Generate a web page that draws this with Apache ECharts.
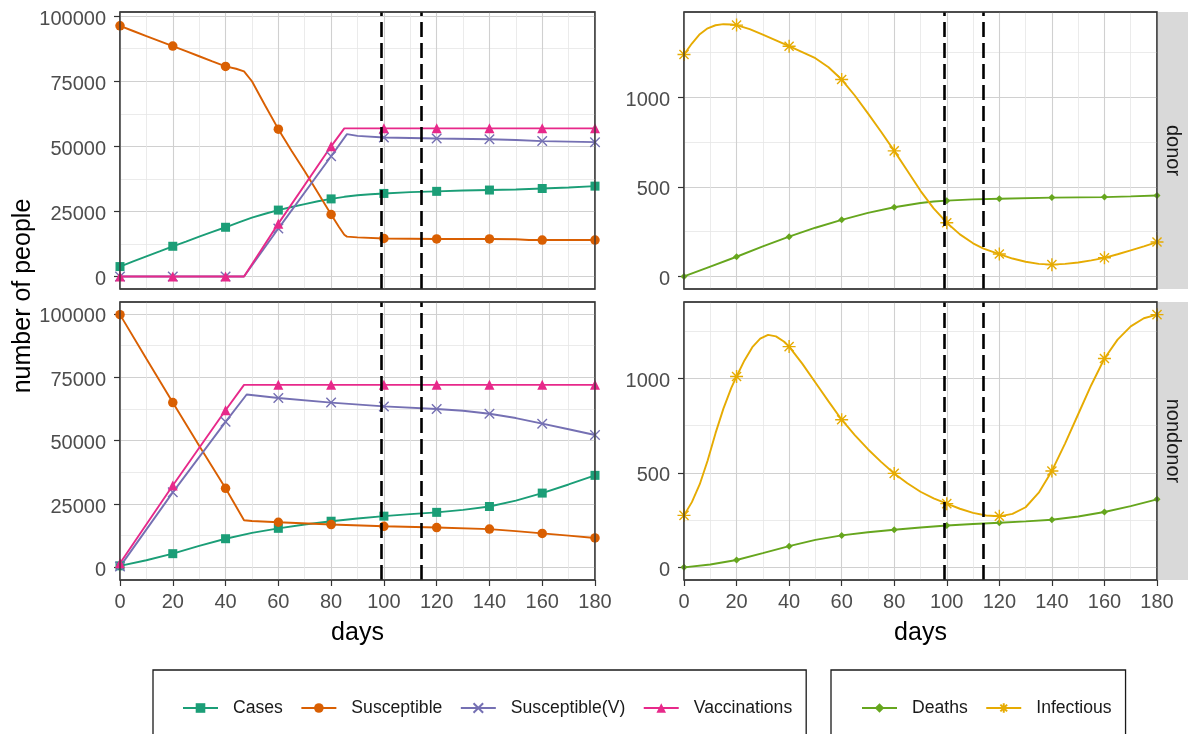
<!DOCTYPE html>
<html><head><meta charset="utf-8">
<script src="https://cdn.jsdelivr.net/npm/echarts@6/dist/echarts.min.js"></script>
<style>html,body{margin:0;padding:0;background:#fff}#c{width:1188px;height:734px}</style>
</head><body><div id="c"></div>
<script>
// ---------- tick labels / reference lines ----------
const xTicks = [0, 20, 40, 60, 80, 100, 120, 140, 160, 180];
const yTicksLeft = [0, 25000, 50000, 75000, 100000];
const yMinorLeft = [12500, 37500, 62500, 87500];
const yTicksRight = [0, 500, 1000];
const yMinorRight = [250, 750, 1250];
const dashedDays = [99, 114];
const markerEvery = 20;
const facetLabels = ['donor', 'nondonor'];
const legendLeft = ['Cases', 'Susceptible', 'Susceptible(V)', 'Vaccinations'];
const legendRight = ['Deaths', 'Infectious'];

// ---------- donor (top row) ----------
const donorCases = [[0,3800],[5,5800],[10,7700],[15,9600],[20,11600],[25,13400],[30,15300],[35,17100],[40,18900],[45,20800],[50,22600],[55,24100],[60,25500],[65,26700],[70,27800],[75,28900],[80,29800],[85,30600],[90,31200],[95,31600],[100,31900],[110,32400],[120,32700],[130,33000],[140,33200],[150,33400],[160,33800],[170,34200],[180,34700]];
const donorSusceptible = [[0,96300],[5,94300],[10,92300],[15,90400],[20,88500],[25,86600],[30,84600],[35,82600],[40,80700],[44,79800],[47,78800],[50,75000],[55,65700],[60,56600],[65,48300],[70,40400],[75,32200],[80,23800],[83,19000],[85,16000],[86,15300],[90,15000],[100,14600],[110,14500],[120,14400],[140,14400],[150,14300],[155,14000],[160,14000],[180,14000]];
const donorSusceptibleV = [[0,0],[20,0],[40,0],[47,0],[60,18400],[80,46200],[86,54700],[90,54000],[100,53400],[120,53000],[140,52700],[150,52400],[160,52000],[170,51800],[180,51600]];
const donorVaccinations = [[0,0],[20,0],[40,0],[47,0],[60,20300],[80,50000],[85,56900],[100,56900],[120,56900],[140,56900],[160,56900],[180,56900]];
const donorDeaths = [[0,0],[10,55],[20,110],[30,168],[40,222],[50,272],[60,316],[70,355],[80,386],[90,410],[95,418],[100,423],[110,430],[120,434],[140,440],[160,443],[170,447],[180,452]];
const donorInfectious = [[0,1239],[3,1300],[6,1352],[9,1385],[12,1402],[15,1408],[18,1406],[20,1403],[25,1380],[30,1350],[35,1318],[40,1285],[45,1252],[50,1218],[55,1168],[60,1099],[65,1010],[70,910],[75,808],[80,701],[85,590],[90,478],[95,380],[100,300],[105,235],[110,185],[114,155],[120,125],[125,100],[130,82],[135,70],[140,66],[145,70],[150,78],[155,90],[160,104],[165,124],[170,146],[175,168],[180,192]];

// ---------- nondonor (bottom row) ----------
const nondonorCases = [[0,600],[10,2800],[20,5400],[30,8500],[40,11300],[50,13600],[60,15400],[70,16900],[80,18200],[90,19300],[100,20200],[110,21000],[120,21700],[130,22700],[140,24000],[150,26300],[160,29300],[170,32700],[180,36300]];
const nondonorSusceptible = [[0,99700],[10,82300],[20,65000],[30,48000],[40,31200],[47,18600],[50,18300],[60,17800],[80,16900],[100,16200],[120,15700],[140,15100],[150,14300],[160,13400],[170,12500],[180,11600]];
const nondonorSusceptibleV = [[0,300],[20,29600],[40,57400],[48,68200],[60,66800],[80,65000],[100,63500],[120,62500],[130,61800],[140,60600],[150,58900],[160,56700],[170,54500],[180,52200]];
const nondonorVaccinations = [[0,1600],[20,32300],[40,62000],[47,72000],[60,72000],[80,72000],[100,72000],[120,72000],[140,72000],[160,72000],[180,72000]];
const nondonorDeaths = [[0,0],[10,15],[20,39],[30,75],[40,112],[50,145],[60,169],[70,186],[80,199],[90,211],[100,221],[110,229],[120,236],[130,243],[140,252],[150,269],[160,293],[170,324],[180,360]];
const nondonorInfectious = [[0,275],[3,345],[6,440],[9,565],[12,710],[15,840],[18,950],[20,1010],[23,1095],[26,1165],[29,1210],[32,1230],[35,1222],[38,1195],[40,1168],[45,1078],[50,978],[55,878],[60,781],[65,700],[70,625],[75,558],[80,497],[85,445],[90,400],[95,365],[100,337],[105,310],[110,288],[115,274],[120,270],[125,283],[130,318],[135,395],[140,510],[145,655],[150,810],[155,965],[160,1105],[165,1205],[170,1275],[175,1318],[180,1337]];

// ---------- styling ----------
const FONT = "'Liberation Sans', Arial, sans-serif";
const MAJOR = '#D0D0D0', MINOR = '#E6E6E6';
const COL = {Cases:'#1B9E77', Susceptible:'#D95F02', 'Susceptible(V)':'#7570B3', Vaccinations:'#E7298A', Deaths:'#66A61E', Infectious:'#E6AB02'};
const SYM = {
  Cases:['rect',9,false], Susceptible:['circle',9.5,false],
  'Susceptible(V)':['path://M0,0L10,10M10,0L0,10',9.5,true],
  Vaccinations:['triangle',10,false], Deaths:['diamond',7,false],
  Infectious:['path://M5,0L5,10M0,5L10,5M1.5,1.5L8.5,8.5M8.5,1.5L1.5,8.5',13,true]
};

const panels = [
  {grid:{left:120, top:12, width:475, height:277}, yMin:-4815, yMax:101600, ticks:yTicksLeft, minor:yMinorLeft, bottom:false},
  {grid:{left:120, top:302, width:475, height:278}, yMin:-4985, yMax:104685, ticks:yTicksLeft, minor:yMinorLeft, bottom:true},
  {grid:{left:684, top:12, width:473, height:277}, yMin:-70, yMax:1476, ticks:yTicksRight, minor:yMinorRight, bottom:false},
  {grid:{left:684, top:302, width:473, height:278}, yMin:-67, yMax:1404, ticks:yTicksRight, minor:yMinorRight, bottom:true}
];

const grids = [], xAxes = [], yAxes = [];
panels.forEach((p, i) => {
  grids.push(Object.assign({show:true, borderColor:'#333', borderWidth:1.2, backgroundColor:'#fff'}, p.grid));
  xAxes.push({gridIndex:i, type:'value', min:0, max:180, interval:20, position:'bottom',
    axisLine:{show:false, onZero:false},
    axisTick:{show:p.bottom, length:6, customValues:xTicks, lineStyle:{color:'#333', width:1.2}},
    axisLabel:{show:p.bottom, customValues:xTicks, fontSize:20, color:'#4D4D4D', fontFamily:FONT, margin:12},
    splitLine:{show:true, lineStyle:{color:MAJOR, width:1.1}},
    minorTick:{show:false, splitNumber:2},
    minorSplitLine:{show:true, lineStyle:{color:MINOR, width:0.8}}
  });
  yAxes.push({gridIndex:i, type:'value', min:p.yMin, max:p.yMax, position:'left',
    axisLine:{show:false, onZero:false},
    axisTick:{show:true, length:6, customValues:p.ticks, lineStyle:{color:'#333', width:1.2}},
    axisLabel:{show:true, customValues:p.ticks, margin:14, formatter:v => '{t|' + v + '}',
      rich:{t:{fontSize:20, color:'#4D4D4D', fontFamily:FONT, lineHeight:26, verticalAlign:'bottom'}}},
    splitLine:{show:true, lineStyle:{color:MAJOR, width:1.1}}
  });
  yAxes.push({gridIndex:i, type:'value', min:p.yMin, max:p.yMax, position:'left',
    axisLine:{show:false, onZero:false},
    axisTick:{show:false, customValues:p.minor},
    axisLabel:{show:false},
    splitLine:{show:true, lineStyle:{color:MINOR, width:0.8}}
  });
});

function mk(name, data, gi, withMark) {
  const color = COL[name], s = SYM[name];
  const ser = {type:'line', name, xAxisIndex:gi, yAxisIndex:gi*2, data,
    symbol:s[0], symbolSize:v => (v[0] % markerEvery === 0 ? s[1] : 0),
    showSymbol:true, showAllSymbol:true, silent:true, animation:false,
    lineStyle:{color, width:1.9},
    itemStyle: s[2] ? {color:'rgba(0,0,0,0)', borderColor:color, borderWidth:1.4} : {color, borderWidth:0},
    emphasis:{disabled:true}
  };
  if (withMark) {
    ser.markLine = {silent:true, symbol:['none','none'], label:{show:false}, animation:false,
      lineStyle:{color:'#000', width:2.6, type:[15,6]},
      data: dashedDays.map(d => ({xAxis:d}))};
  }
  return ser;
}

const series = [
  mk('Cases', donorCases, 0), mk('Susceptible', donorSusceptible, 0), mk('Susceptible(V)', donorSusceptibleV, 0), mk('Vaccinations', donorVaccinations, 0, true),
  mk('Cases', nondonorCases, 1), mk('Susceptible', nondonorSusceptible, 1), mk('Susceptible(V)', nondonorSusceptibleV, 1), mk('Vaccinations', nondonorVaccinations, 1, true),
  mk('Deaths', donorDeaths, 2), mk('Infectious', donorInfectious, 2, true),
  mk('Deaths', nondonorDeaths, 3), mk('Infectious', nondonorInfectious, 3, true)
];

const legendCommon = {orient:'horizontal', selectedMode:false, itemWidth:35, itemHeight:12, itemGap:17.5,
  borderColor:'#1A1A1A', borderWidth:1.3, backgroundColor:'#fff',
  textStyle:{fontSize:17.6, color:'#1A1A1A', fontFamily:FONT, padding:[0,0,0,10]}};

const borders = panels.map(p => ({type:'rect', z:100, shape:{x:p.grid.left, y:p.grid.top, width:p.grid.width, height:p.grid.height},
  style:{fill:'none', stroke:'#333', lineWidth:1.3}, silent:true}));
const stripRects = panels.slice(2).map(p => ({type:'rect', shape:{x:1157.6, y:p.grid.top, width:31, height:p.grid.height}, style:{fill:'#D9D9D9'}, silent:true}));
const stripTexts = panels.slice(2).map((p, k) => ({type:'text', x:1172.5, y:p.grid.top + p.grid.height/2, rotation:-Math.PI/2,
  style:{text:facetLabels[k], fontSize:20, fill:'#1A1A1A', fontFamily:FONT, align:'center', verticalAlign:'middle', textAlign:'center', textVerticalAlign:'middle'}, silent:true}));

const option = {
  backgroundColor:'#fff', animation:false,
  grid:grids, xAxis:xAxes, yAxis:yAxes, series,
  legend:[
    Object.assign({}, legendCommon, {left:153, top:670, data:legendLeft, padding:[29,14,40,29]}),
    Object.assign({}, legendCommon, {left:831, top:670, data:legendRight, padding:[29,14,40,30]})
  ],
  graphic:[].concat(stripRects, stripTexts, borders, [
    {type:'text', x:23, y:296, rotation:Math.PI/2, style:{text:'number of people', fontSize:25, fill:'#000', fontFamily:FONT, align:'center', verticalAlign:'middle', textAlign:'center', textVerticalAlign:'middle'}, silent:true},
    {type:'text', x:357.5, y:633, style:{text:'days', fontSize:25, fill:'#000', fontFamily:FONT, align:'center', verticalAlign:'middle', textAlign:'center', textVerticalAlign:'middle'}, silent:true},
    {type:'text', x:920.5, y:633, style:{text:'days', fontSize:25, fill:'#000', fontFamily:FONT, align:'center', verticalAlign:'middle', textAlign:'center', textVerticalAlign:'middle'}, silent:true}
  ])
};
echarts.init(document.getElementById('c'), null, {renderer:'canvas'}).setOption(option);
</script></body></html>
